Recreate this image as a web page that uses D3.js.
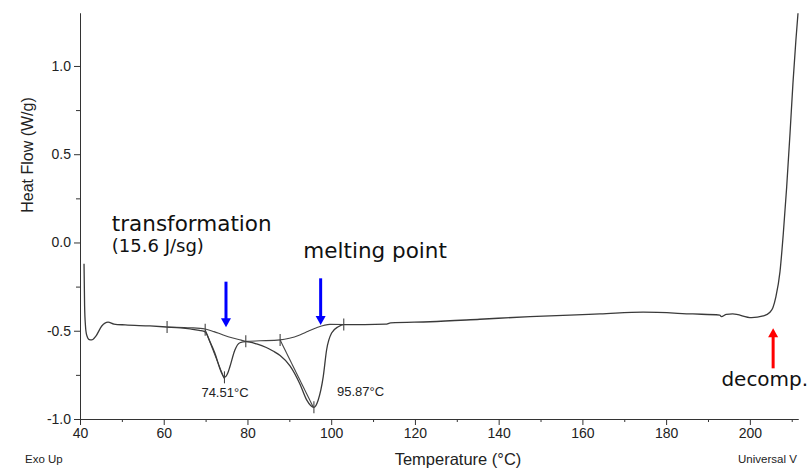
<!DOCTYPE html>
<html>
<head>
<meta charset="utf-8">
<title>DSC heat flow</title>
<script src="https://cdn.jsdelivr.net/npm/d3@7"></script>
<style>
  html, body { margin: 0; padding: 0; background: #fff; }
  svg { display: block; font-family: "Liberation Sans", Arial, sans-serif; }
  .axis path, .axis line { stroke: #333; stroke-width: 1; }
  .axis text { fill: #222; font-size: 14px; font-family: "Liberation Sans", Arial, sans-serif; }
  .trace { fill: none; stroke: #3a3a3a; stroke-width: 1.3; }
  .aux { fill: none; stroke: #444; stroke-width: 1.1; }
  .note { font-family: "DejaVu Sans", Verdana, sans-serif; fill: #111; }
</style>
</head>
<body>
<svg id="chart" width="811" height="470"></svg>
<script>
// Measured trace: temperature (°C) and heat flow (W/g).
const temps = [40.96, 41.1, 41.3, 41.6, 42.2, 42.8, 43.8, 45.2, 46.7, 48.1, 50.8,
  56.7, 60.8, 64.0, 66.3, 68.5, 69.9, 71.0, 72.2, 73.7, 74.51, 75.3, 75.8, 77.0,
  78.2, 79.6, 82.2, 84.5, 86.1, 87.8, 90.2, 92.5, 94.1, 95.87, 96.9, 98.1, 98.9,
  100.1, 101.7, 103.0, 108, 113.0, 114.2, 123.6, 135.5, 147.5, 157.0, 164.2, 174.5,
  186.4, 192.8, 193.2, 194.4, 195.9, 200.4, 203.2, 204.8, 205.5, 206.2, 207.2, 208.0,
  208.8, 209.6, 210.3, 211.0, 211.5];
const heatFlow = [-0.12, -0.36, -0.47, -0.525, -0.55, -0.552, -0.53, -0.473, -0.451,
  -0.462, -0.467, -0.473, -0.479, -0.484, -0.49, -0.498, -0.506, -0.56, -0.626, -0.732,
  -0.764, -0.74, -0.704, -0.609, -0.568, -0.562, -0.575, -0.595, -0.615, -0.64, -0.70,
  -0.80, -0.89, -0.934, -0.892, -0.76, -0.609, -0.513, -0.477, -0.465, -0.465, -0.463,
  -0.456, -0.449, -0.435, -0.42, -0.411, -0.405, -0.395, -0.405, -0.411, -0.42, -0.407,
  -0.405, -0.426, -0.416, -0.395, -0.37, -0.31, -0.165, 0.054, 0.316, 0.62, 0.904,
  1.147, 1.299];

// Integration baseline under the two endotherms.
const baseTemps = [60.8, 63, 66.3, 69.9, 72, 74.2, 76.5, 78.5, 79.6, 83, 87.8, 90,
  92.5, 94.5, 96.5, 99.7, 103.0];
const baseFlow = [-0.479, -0.48, -0.483, -0.49, -0.505, -0.524, -0.541, -0.553, -0.56,
  -0.557, -0.552, -0.543, -0.524, -0.503, -0.483, -0.464, -0.465];

// Onset tangents [t0, hf0, t1, hf1].
const tangents = [[69.9, -0.494, 74.4, -0.77], [87.8, -0.552, 95.7, -0.932]];

// Analysis markers on the trace.
const markTemps = [60.8, 69.9, 74.51, 79.6, 87.8, 95.87, 103.0];
const markFlow = [-0.479, -0.494, -0.764, -0.56, -0.552, -0.934, -0.465];

const peakLabels = ["74.51°C", "95.87°C"];
const peakLabelPos = [[74.63, -0.875, "middle"], [101.4, -0.868, "start"]];

const xMajor = [40, 60, 80, 100, 120, 140, 160, 180, 200];
const xMinor = [50, 70, 90, 110, 130, 150, 170, 190, 210];
const yMajor = [-1.0, -0.5, 0.0, 0.5, 1.0];
const yMinor = [-0.75, -0.25, 0.25, 0.75];

const svg = d3.select("#chart");
const x = d3.scaleLinear().domain([40, 211.5]).range([80, 798]);
const y = d3.scaleLinear().domain([-1, 1.3]).range([419, 13]);

// Axes
svg.append("g")
  .attr("class", "axis")
  .attr("transform", `translate(0,${y(-1)})`)
  .call(d3.axisBottom(x).tickValues(xMinor).tickSize(3).tickSizeOuter(0).tickFormat(""));
svg.append("g")
  .attr("class", "axis")
  .attr("transform", `translate(0,${y(-1)})`)
  .call(d3.axisBottom(x).tickValues(xMajor).tickSize(6).tickPadding(3).tickSizeOuter(0)
    .tickFormat((d) => d));
svg.append("g")
  .attr("class", "axis")
  .attr("transform", `translate(${x(40)},0)`)
  .call(d3.axisLeft(y).tickValues(yMinor).tickSize(4).tickSizeOuter(0).tickFormat(""));
svg.append("g")
  .attr("class", "axis")
  .attr("transform", `translate(${x(40)},0)`)
  .call(d3.axisLeft(y).tickValues(yMajor).tickSize(6).tickPadding(3).tickSizeOuter(0)
    .tickFormat((d) => d.toFixed(1)));

// Axis titles and instrument footers
svg.append("text")
  .attr("transform", "translate(33,155) rotate(-90)")
  .attr("text-anchor", "middle")
  .attr("fill", "#222")
  .style("font-size", "16px")
  .text("Heat Flow (W/g)");
svg.append("text")
  .attr("x", 458).attr("y", 465)
  .attr("text-anchor", "middle")
  .attr("fill", "#222")
  .style("font-size", "16.5px")
  .text("Temperature (°C)");
svg.append("text")
  .attr("x", 25).attr("y", 463)
  .attr("fill", "#222")
  .style("font-size", "11.5px")
  .text("Exo Up");
svg.append("text")
  .attr("x", 738).attr("y", 463)
  .attr("fill", "#222")
  .style("font-size", "11.5px")
  .text("Universal V");

// Trace, baseline and tangents
const line = d3.line().x((d) => x(d[0])).y((d) => y(d[1])).curve(d3.curveMonotoneX);
svg.append("path")
  .attr("class", "aux")
  .attr("d", line(d3.zip(baseTemps, baseFlow)));
svg.selectAll("line.tangent")
  .data(tangents)
  .join("line")
  .attr("class", "aux tangent")
  .attr("x1", (d) => x(d[0])).attr("y1", (d) => y(d[1]))
  .attr("x2", (d) => x(d[2])).attr("y2", (d) => y(d[3]));
svg.append("path")
  .attr("class", "trace")
  .attr("d", line(d3.zip(temps, heatFlow)));
svg.selectAll("line.mark")
  .data(d3.zip(markTemps, markFlow))
  .join("line")
  .attr("class", "aux mark")
  .attr("x1", (d) => x(d[0])).attr("x2", (d) => x(d[0]))
  .attr("y1", (d) => y(d[1]) - 6).attr("y2", (d) => y(d[1]) + 6);

svg.selectAll("text.peak")
  .data(peakLabels)
  .join("text")
  .attr("class", "peak")
  .attr("x", (d, i) => x(peakLabelPos[i][0]))
  .attr("y", (d, i) => y(peakLabelPos[i][1]))
  .attr("text-anchor", (d, i) => peakLabelPos[i][2])
  .attr("fill", "#222")
  .style("font-size", "13px")
  .text((d) => d);

// Annotations
const notes = [
  ["transformation", 47.6, 0.065, 21.5],
  ["(15.6 J/sg)", 47.6, -0.054, 18],
  ["melting point", 93.35, -0.088, 21.5],
  ["decomp.", 193.2, -0.813, 20],
];
svg.selectAll("text.note")
  .data(notes)
  .join("text")
  .attr("class", "note")
  .attr("x", (d) => x(d[1]))
  .attr("y", (d) => y(d[2]))
  .style("font-size", (d) => d[3] + "px")
  .text((d) => d[0]);

// Arrows [temp, tail hf, tip hf, colour]
const arrows = [
  [74.87, -0.222, -0.48, "#0000ff"],
  [97.48, -0.203, -0.467, "#0000ff"],
  [205.56, -0.713, -0.486, "#ff0000"],
];
const ag = svg.selectAll("g.arrow").data(arrows).join("g").attr("class", "arrow");
ag.append("line")
  .attr("x1", (d) => x(d[0])).attr("x2", (d) => x(d[0]))
  .attr("y1", (d) => y(d[1]))
  .attr("y2", (d) => y(d[2]) + (y(d[1]) > y(d[2]) ? 6 : -6))
  .attr("stroke", (d) => d[3])
  .attr("stroke-width", 3);
ag.append("path")
  .attr("fill", (d) => d[3])
  .attr("d", (d) => {
    const cx = x(d[0]), ty = y(d[2]);
    const dir = y(d[1]) > ty ? 1 : -1;
    return `M${cx},${ty} L${cx - 5},${ty + dir * 9} L${cx + 5},${ty + dir * 9} Z`;
  });
</script>
</body>
</html>
